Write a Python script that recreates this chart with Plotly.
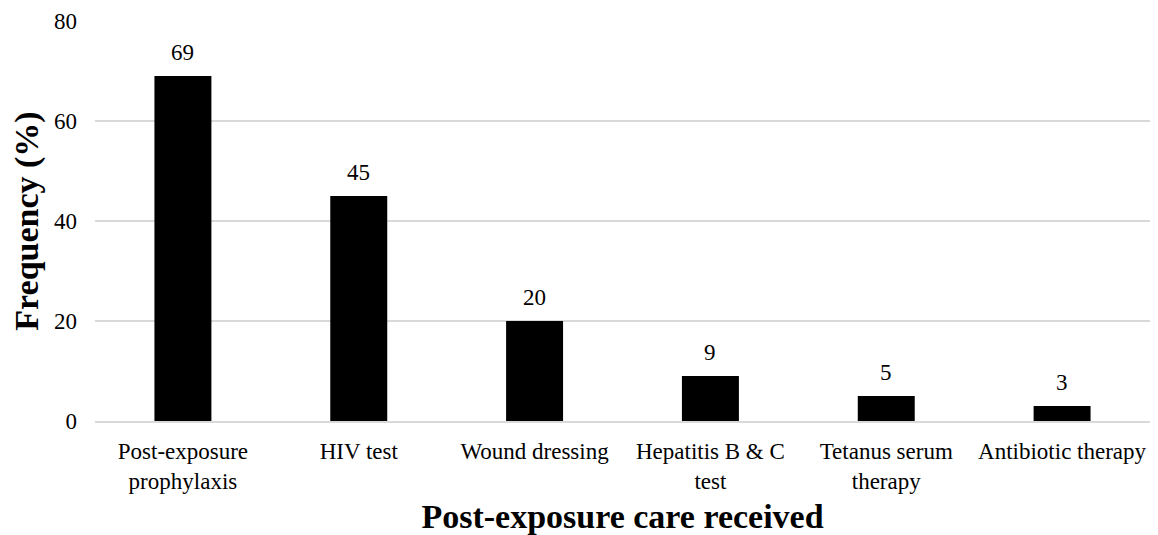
import plotly.graph_objs as go

# data
care_types = [
    "Post-exposure<br>prophylaxis",
    "HIV test",
    "Wound dressing",
    "Hepatitis B & C<br>test",
    "Tetanus serum<br>therapy",
    "Antibiotic therapy",
]
frequency = [69, 45, 20, 9, 5, 3]
y_ticks = [0, 20, 40, 60, 80]

font_family = "Liberation Serif, Times New Roman, serif"

fig = go.Figure()
fig.add_trace(
    go.Bar(
        x=care_types,
        y=frequency,
        marker=dict(color="black", line=dict(width=0)),
    )
)

# value labels sit a little above each bar
fig.update_layout(
    annotations=[
        dict(
            x=c,
            y=v,
            text=str(v),
            showarrow=False,
            yanchor="bottom",
            yshift=9,
            font=dict(family=font_family, size=23, color="black"),
        )
        for c, v in zip(care_types, frequency)
    ]
)

# page body has an 8px margin, so size the figure to fit the window
fig.update_layout(
    width=1150,
    height=527,
    margin=dict(l=87, r=8, t=13, b=114),
    plot_bgcolor="white",
    paper_bgcolor="white",
    bargap=0.676,
    showlegend=False,
    font=dict(family=font_family, size=23, color="black"),
)

fig.update_xaxes(
    title=dict(
        text="<b>Post-exposure care received</b>",
        font=dict(family=font_family, size=34, color="black"),
        standoff=13,
    ),
    automargin=False,
    showline=True,
    linecolor="#d9d9d9",
    linewidth=2,
    ticks="",
    ticklabelstandoff=8,
    tickfont=dict(family=font_family, size=23, color="black"),
)

fig.update_yaxes(
    title=dict(
        text="<b>Frequency (%)</b>",
        font=dict(family=font_family, size=34, color="black"),
        standoff=10,
    ),
    automargin=False,
    range=[0, 80],
    tickvals=y_ticks,
    showgrid=True,
    gridcolor="#d9d9d9",
    gridwidth=1.5,
    zeroline=False,
    ticks="",
    ticklabelstandoff=17,
    tickfont=dict(family=font_family, size=23, color="black"),
)

fig.write_html("out.html")
